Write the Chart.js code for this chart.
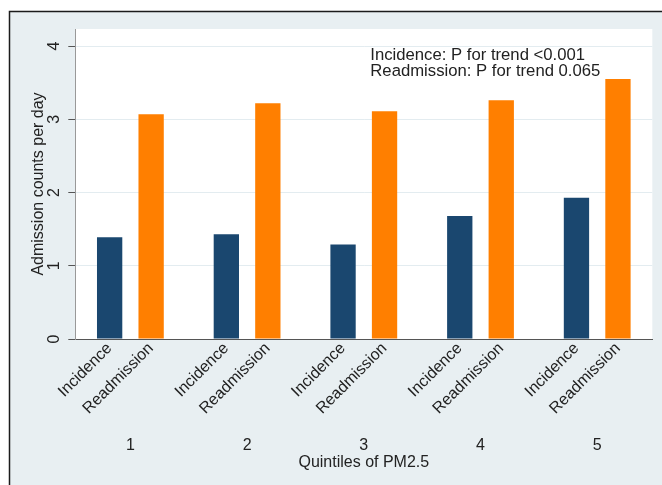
<!DOCTYPE html>
<html>
<head>
<meta charset="utf-8">
<script src="https://cdn.jsdelivr.net/npm/chart.js@4"></script>
<style>
  html, body { margin: 0; padding: 0; background: #fff; }
  canvas { display: block; }
</style>
</head>
<body>
<canvas id="pmChart" width="662" height="485"></canvas>
<script>
// values
const quintiles = ['1', '2', '3', '4', '5'];
const seriesNames = ['Incidence', 'Readmission'];
const incidence = [1.39, 1.43, 1.29, 1.68, 1.93];
const readmission = [3.07, 3.22, 3.11, 3.26, 3.55];
const yTicks = [0, 1, 2, 3, 4];
const trendNotes = ['Incidence: P for trend <0.001', 'Readmission: P for trend 0.065'];

const FONT = 'Liberation Sans, Arial, sans-serif';

// grey-blue graph region with a frame, white plot region
const frameBg = {
    id: 'frameBg',
    beforeDraw(chart) {
        const ctx = chart.ctx;
        const a = chart.chartArea;
        ctx.save();
        ctx.fillStyle = '#fff';
        ctx.fillRect(0, 0, chart.width, chart.height);
        ctx.fillStyle = '#e8eff2';
        ctx.fillRect(9, 11, chart.width, chart.height);
        ctx.strokeStyle = '#1b1b1b';
        ctx.lineWidth = 1.5;
        ctx.beginPath();
        ctx.moveTo(9.5, chart.height);
        ctx.lineTo(9.5, 11.5);
        ctx.lineTo(chart.width, 11.5);
        ctx.stroke();
        ctx.fillStyle = '#fff';
        ctx.fillRect(a.left, a.top, a.right - a.left, a.bottom - a.top);
        ctx.restore();
    }
};

// slanted series names under each bar + the trend note
const barLabels = {
    id: 'barLabels',
    afterDraw(chart) {
        const ctx = chart.ctx;
        const a = chart.chartArea;
        ctx.save();
        ctx.font = '16px ' + FONT;
        ctx.fillStyle = '#222';
        ctx.textAlign = 'right';
        ctx.textBaseline = 'alphabetic';
        chart.data.datasets.forEach((ds, d) => {
            chart.getDatasetMeta(d).data.forEach(bar => {
                ctx.save();
                ctx.translate(bar.x + 3, a.bottom + 10);
                ctx.rotate(-Math.PI / 4);
                ctx.fillText(ds.label, 0, 0);
                ctx.restore();
            });
        });
        ctx.font = '16.7px ' + FONT;
        ctx.textAlign = 'left';
        trendNotes.forEach((t, i) => {
            ctx.fillText(t, a.left + 295, a.top + 30.8 + i * 15.8);
        });
        ctx.restore();
    }
};

new Chart(document.getElementById('pmChart').getContext('2d'), {
    type: 'bar',
    data: {
        labels: quintiles,
        datasets: [{
            label: seriesNames[0],
            data: incidence,
            backgroundColor: '#1a476f',
            borderWidth: 0,
            categoryPercentage: 0.711,
            barPercentage: 0.61
        }, {
            label: seriesNames[1],
            data: readmission,
            backgroundColor: '#ff7f00',
            borderWidth: 0,
            categoryPercentage: 0.711,
            barPercentage: 0.61
        }]
    },
    options: {
        responsive: false,
        animation: false,
        devicePixelRatio: 1,
        layout: { padding: { left: 0, top: 29, right: 9.7, bottom: 0 } },
        plugins: {
            legend: { display: false },
            tooltip: { enabled: false }
        },
        scales: {
            x: {
                type: 'linear',
                min: 0.528,
                max: 5.472,
                offset: false,
                afterBuildTicks: s => { s.ticks = quintiles.map(q => ({ value: +q })); },
                afterFit: s => { s.height = 146; s.paddingLeft = 0; s.paddingRight = 0; },
                grid: { display: false, drawTicks: false },
                border: { display: true, color: '#555', width: 1 },
                ticks: {
                    padding: 97,
                    maxRotation: 0,
                    color: '#222',
                    font: { family: FONT, size: 16 },
                    callback: v => quintiles[v - 1]
                },
                title: {
                    display: true,
                    text: 'Quintiles of PM2.5',
                    color: '#222',
                    font: { family: FONT, size: 16 },
                    padding: { top: 0, bottom: 13 }
                }
            },
            y: {
                min: 0,
                max: 4.233,
                afterBuildTicks: s => { s.ticks = yTicks.map(v => ({ value: v })); },
                afterFit: s => { s.width = 75.3; },
                grid: { color: '#e3ecf0', tickColor: '#555', tickLength: 7, lineWidth: 1 },
                border: { display: true, color: '#999', width: 1 },
                ticks: {
                    minRotation: 90,
                    maxRotation: 90,
                    crossAlign: 'center',
                    padding: 9,
                    color: '#222',
                    font: { family: FONT, size: 16 }
                },
                title: {
                    display: true,
                    text: 'Admission counts per day',
                    color: '#222',
                    font: { family: FONT, size: 16 },
                    padding: { top: 28.5, bottom: 0 }
                }
            }
        }
    },
    plugins: [frameBg, barLabels]
});
</script>
</body>
</html>
